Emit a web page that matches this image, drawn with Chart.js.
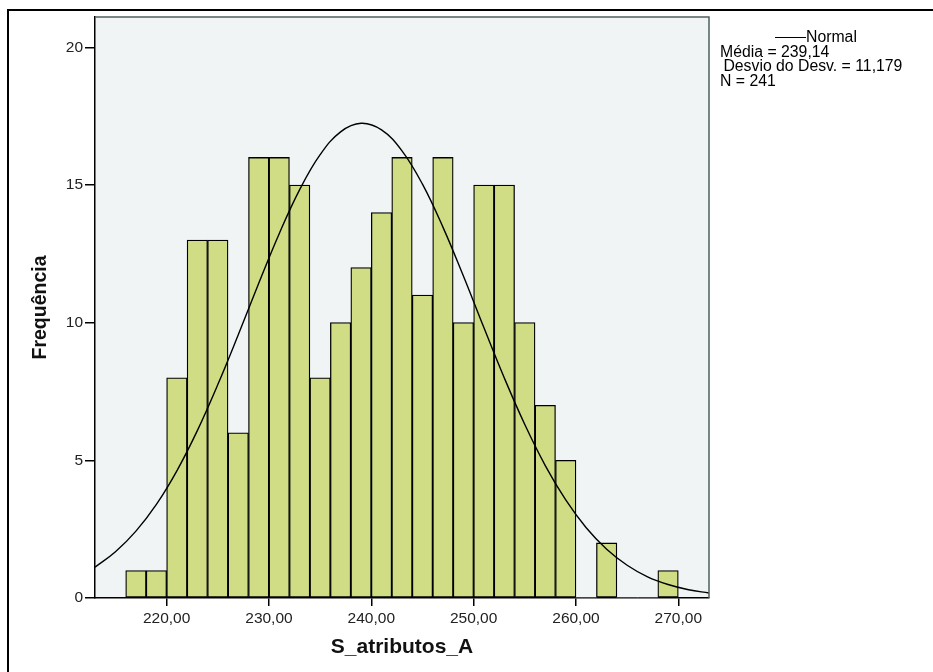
<!DOCTYPE html>
<html>
<head>
<meta charset="utf-8">
<script src="https://cdn.jsdelivr.net/npm/chart.js@4/dist/chart.umd.min.js"></script>
<style>
  html, body { margin: 0; padding: 0; background: #fff; }
  #wrap { position: relative; width: 933px; height: 672px; overflow: hidden; }
  #frame { position: absolute; left: 7px; top: 9px; width: 960px; height: 700px;
           border-left: 2px solid #000; border-top: 2px solid #000; pointer-events: none; }
  canvas { position: absolute; left: 0; top: 0; }
  .stat { position: absolute; font-family: "Liberation Sans", Arial, sans-serif; font-size: 15.8px;
          line-height: 15px; color: #000; white-space: pre; }
  #legLine { position: absolute; left: 775px; top: 37px; width: 31px; height: 0; border-top: 1px solid #000; }
</style>
</head>
<body>
<div id="wrap">
  <canvas id="c" width="933" height="672"></canvas>
  <div id="frame"></div>
  <div id="legLine"></div>
  <div class="stat" id="s0" style="left:806px; top:29px;"></div>
  <div class="stat" id="s1" style="left:720px; top:44px;"></div>
  <div class="stat" id="s2" style="left:719px; top:58px;"></div>
  <div class="stat" id="s3" style="left:720px; top:73px;"></div>
</div>
<script>
// Histogram bins (centres of 2-unit bins) and frequencies
const binCenters = [217,219,221,223,225,227,229,231,233,235,237,239,241,243,245,247,249,251,253,255,257,259,261,263,265,267,269];
const frequencies = [1,1,8,13,13,6,16,16,15,8,10,12,14,16,11,16,10,15,15,10,7,5,0,2,0,0,1];

// Normal curve, values
const curveX = [213,215,217,219,221,223,225,227,229,231,233,235,237,239,241,243,245,247,249,251,253,255,257,259,261,263,265,267,269,271,273];
const curveY = [1.12,1.68,2.43,3.40,4.62,6.08,7.75,9.56,11.43,13.23,14.83,16.10,16.93,17.24,17.00,16.24,15.03,13.47,11.69,9.82,7.99,6.30,4.81,3.56,2.55,1.77,1.19,0.77,0.49,0.30,0.18];

// Tick values / labels
const xTickValues = [220,230,240,250,260,270];
const xTickLabels = ['220,00','230,00','240,00','250,00','260,00','270,00'];
const yTickValues = [0,5,10,15,20];
const yTickLabels = ['0','5','10','15','20'];

// Texts
const xTitle = 'S_atributos_A';
const yTitle = 'Frequência';
const statLabels = ['Normal', 'Média = 239,14', ' Desvio do Desv. = 11,179', 'N = 241'];

statLabels.forEach((t, i) => { document.getElementById('s' + i).textContent = t; });

const plotBg = {
  id: 'plotBg',
  beforeDraw(chart) {
    const { ctx, chartArea: a } = chart;
    ctx.save();
    ctx.fillStyle = '#f0f4f4';
    ctx.fillRect(a.left, a.top, a.right - a.left, a.bottom - a.top);
    ctx.restore();
  },
  afterDraw(chart) {
    const { ctx, chartArea: a } = chart;
    ctx.save();
    ctx.strokeStyle = '#4f5f5f';
    ctx.lineWidth = 1.5;
    ctx.beginPath();
    ctx.moveTo(a.left, a.top);
    ctx.lineTo(a.right, a.top);
    ctx.lineTo(a.right, a.bottom);
    ctx.stroke();
    ctx.restore();
  }
};

const FONT = '"Liberation Sans", Arial, sans-serif';

new Chart(document.getElementById('c'), {
  type: 'bar',
  data: {
    datasets: [
      {
        type: 'line',
        label: 'Normal',
        data: curveX.map((x, i) => ({ x: x, y: curveY[i] })),
        borderColor: '#000',
        borderWidth: 1.4,
        pointRadius: 0,
        tension: 0.4,
        fill: false,
        order: 0
      },
      {
        type: 'bar',
        label: 'Frequência',
        data: binCenters.map((x, i) => ({ x: x, y: frequencies[i] })),
        backgroundColor: '#d0dd85',
        borderColor: '#000',
        borderWidth: (c) => (c.raw && c.raw.y > 0 ? 1.3 : 0),
        borderSkipped: false,
        barPercentage: 1,
        categoryPercentage: 1,
        grouped: false,
        order: 1
      }
    ]
  },
  options: {
    responsive: false,
    animation: false,
    events: [],
    layout: { padding: { top: 17, right: 224, bottom: 0, left: 0 } },
    plugins: { legend: { display: false }, tooltip: { enabled: false } },
    scales: {
      x: {
        type: 'linear',
        min: 213,
        max: 273,
        offset: false,
        afterFit(s) { s.height = 74; },
        afterBuildTicks(s) { s.ticks = xTickValues.map(v => ({ value: v })); },
        ticks: {
          callback: (v) => xTickLabels[xTickValues.indexOf(v)] ?? '',
          color: '#222',
          font: { family: FONT, size: 15.5 },
          padding: 3,
          maxRotation: 0,
          autoSkip: false
        },
        grid: { display: true, drawOnChartArea: false, drawTicks: true, tickLength: 8, color: '#000', lineWidth: 1.5, offset: false },
        border: { display: true, color: '#000', width: 1.5 },
        title: { display: true, text: xTitle, color: '#111', font: { family: FONT, size: 21, weight: 'bold' }, padding: { top: 0, bottom: 12 } }
      },
      y: {
        type: 'linear',
        min: 0,
        max: 21.1,
        afterFit(s) { s.width = 95; },
        afterBuildTicks(s) { s.ticks = yTickValues.map(v => ({ value: v })); },
        ticks: {
          callback: (v) => yTickLabels[yTickValues.indexOf(v)] ?? '',
          color: '#222',
          font: { family: FONT, size: 15.5 },
          padding: 2,
          autoSkip: false
        },
        grid: { display: true, drawOnChartArea: false, drawTicks: true, tickLength: 10, color: '#000', lineWidth: 1.5 },
        border: { display: true, color: '#000', width: 1.5 },
        title: { display: true, text: yTitle, color: '#111', font: { family: FONT, size: 19.5, weight: 'bold' }, padding: { top: 29, bottom: 0 } }
      }
    }
  },
  plugins: [plotBg]
});
</script>
</body>
</html>
